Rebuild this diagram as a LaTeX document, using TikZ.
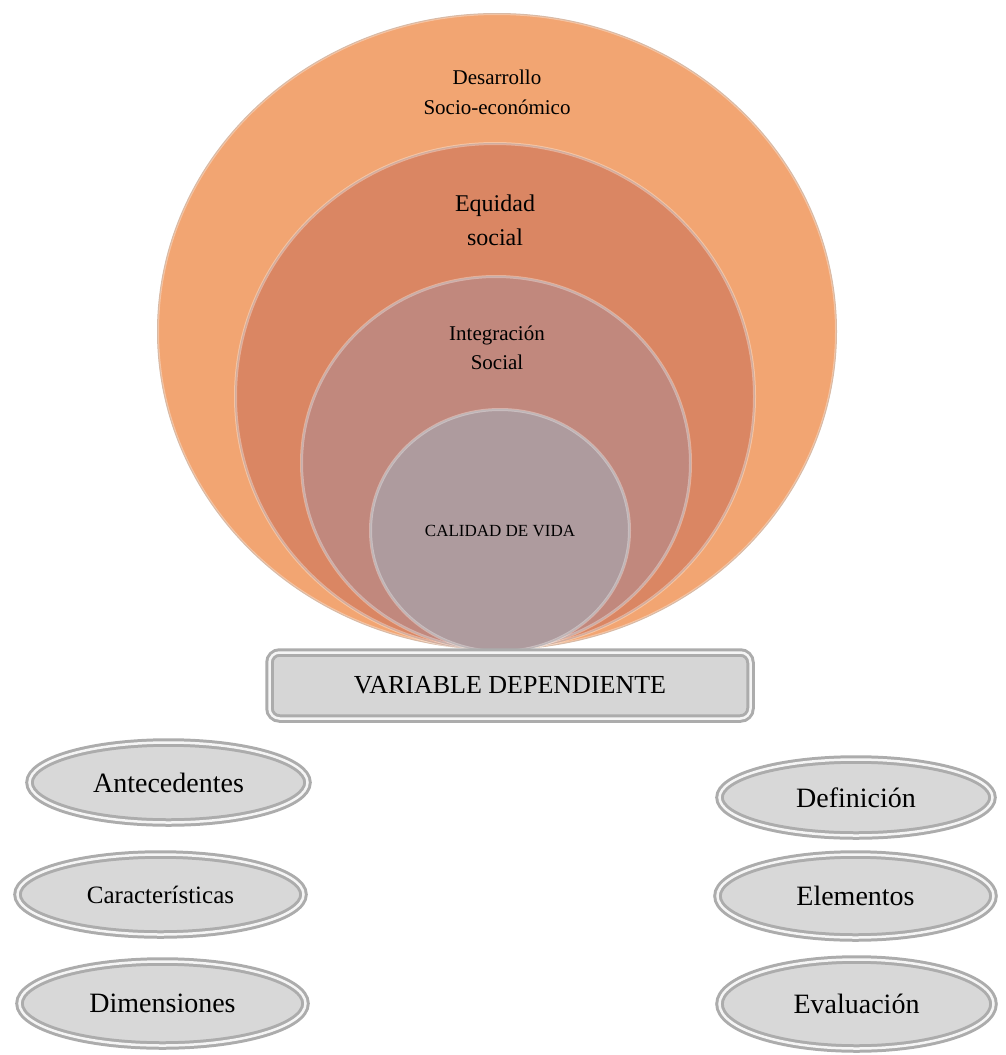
\documentclass[tikz,border=0pt]{standalone}
\usepackage{fontspec}
\setmainfont{Liberation Serif}
\usetikzlibrary{shapes.geometric}

\definecolor{desarrolloC}{HTML}{F2A572}
\definecolor{equidadC}{HTML}{DA8663}
\definecolor{integracionC}{HTML}{C1887D}
\definecolor{calidadC}{HTML}{AE9B9E}
\definecolor{grisC}{HTML}{D6D6D6}

\begin{document}
\begin{tikzpicture}[x=1pt, y=1pt,
    circulo/.style={ellipse, draw=#1!60!gray, line width=1pt, fill=#1, inner sep=0pt,
        postaction={draw=white, draw opacity=0.35, line width=3pt, shorten >=0pt}},
    etiqueta/.style={align=center, inner sep=0pt},
    barra/.style={rectangle, rounded corners=10pt, fill=grisC, draw=gray!65, line width=3pt, double=white!92!gray, double distance=2.5pt, minimum width=481pt, minimum height=66pt, font=\fontsize{26}{30}\selectfont},
    ovalo/.style={ellipse, fill=grisC!95!white, draw=gray!65, line width=3pt, double=white!92!gray, double distance=2.5pt, inner sep=0pt, font=\fontsize{28}{32}\selectfont}
]
    \useasboundingbox (0,0) rectangle (1005,-1055);

    % Circulos concentricos
    \node[circulo=desarrolloC, minimum width=679pt, minimum height=636pt] (desarrollo) at (497,-331.5) {};
    \node[circulo=equidadC, minimum width=519pt, minimum height=506pt] (equidad) at (495,-396.5) {};
    \node[circulo=integracionC, minimum width=389pt, minimum height=373pt] (integracion) at (496,-463) {};
    \node[circulo=calidadC, minimum width=259pt, minimum height=242pt, font=\fontsize{17}{20}\selectfont] (calidad) at (500,-530.5) {CALIDAD DE VIDA};

    % Textos de los circulos
    \node[etiqueta, font=\fontsize{21}{30}\selectfont] (desarrolloTxt) at (497,-92) {Desarrollo\\Socio-económico};
    \node[etiqueta, font=\fontsize{24}{34}\selectfont] (equidadTxt) at (495,-220) {Equidad\\social};
    \node[etiqueta, font=\fontsize{21}{29}\selectfont] (integracionTxt) at (497,-347.5) {Integración\\Social};

    % Variable
    \node[barra] (variable) at (510,-685.5) {VARIABLE DEPENDIENTE};

    % Ovalos izquierda
    \node[ovalo, minimum width=278pt, minimum height=80pt] (antecedentes) at (168.5,-782.5) {Antecedentes};
    \node[ovalo, minimum width=286pt, minimum height=80pt, font=\fontsize{25}{30}\selectfont] (caracteristicas) at (160.5,-894.5) {Características};
    \node[ovalo, minimum width=286pt, minimum height=84pt] (dimensiones) at (162.5,-1003.5) {Dimensiones};

    % Ovalos derecha
    \node[ovalo, minimum width=273pt, minimum height=76pt] (definicion) at (856,-797.5) {Definición};
    \node[ovalo, minimum width=276pt, minimum height=83pt] (elementos) at (855.5,-896) {Elementos};
    \node[ovalo, minimum width=274pt, minimum height=89pt] (evaluacion) at (856.5,-1004) {Evaluación};
\end{tikzpicture}
\end{document}
